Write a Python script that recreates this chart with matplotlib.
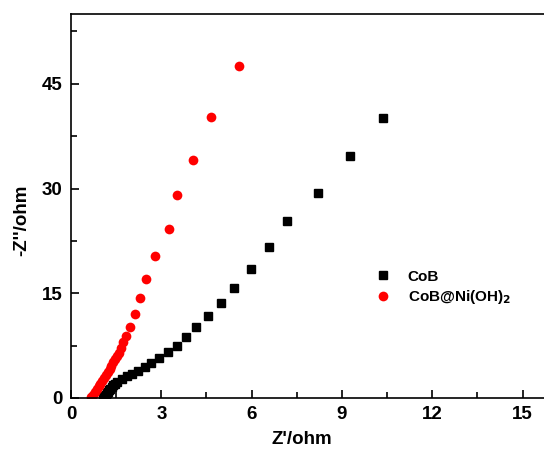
import numpy as np
import matplotlib
matplotlib.use('Agg')
import matplotlib.pyplot as plt
from matplotlib.ticker import MultipleLocator

plt.rcParams['font.family'] = ['Liberation Sans', 'DejaVu Sans']
plt.rcParams['font.weight'] = 'bold'

# CoB (black squares)
cob_x = [1.05, 1.08, 1.11, 1.15, 1.19, 1.23, 1.27, 1.31, 1.36, 1.41, 1.46,
         1.54, 1.69, 1.85, 2.03, 2.23, 2.45, 2.67, 2.92, 3.21, 3.51, 3.82,
         4.16, 4.56, 4.97, 5.43, 5.97, 6.59, 7.18, 8.21, 9.27, 10.36]
cob_y = [0.0, 0.15, 0.32, 0.5, 0.7, 0.9, 1.1, 1.3, 1.55, 1.8, 2.05,
         2.3, 2.7, 3.1, 3.5, 3.9, 4.5, 5.0, 5.8, 6.6, 7.5, 8.8,
         10.1, 11.7, 13.6, 15.8, 18.5, 21.6, 25.3, 29.4, 34.6, 40.1]

# CoB@Ni(OH)2 (red circles)
ni_x = [0.68, 0.74, 0.80, 0.86, 0.92, 0.98, 1.04, 1.10, 1.16, 1.22, 1.28,
        1.34, 1.40, 1.46, 1.52, 1.58, 1.65, 1.74, 1.84, 1.96, 2.13, 2.28,
        2.50, 2.79, 3.26, 3.53, 4.05, 4.65, 5.58]
ni_y = [0.1, 0.45, 0.85, 1.25, 1.65, 2.05, 2.45, 2.85, 3.3, 3.75, 4.2,
        4.65, 5.1, 5.55, 6.0, 6.5, 7.1, 8.0, 8.9, 10.2, 12.0, 14.3,
        17.1, 20.4, 24.2, 29.1, 34.1, 40.3, 47.5]

fig = plt.figure(figsize=(5.44, 4.59), dpi=100)
ax = fig.add_axes([0.1305, 0.1329, 1.0 - 0.1305, 0.9695 - 0.1329])

ax.plot(cob_x, cob_y, 's', color='black', markersize=6, label='CoB')
ax.plot(ni_x, ni_y, 'o', color='red', markersize=7, markeredgewidth=0,
        label='CoB@Ni(OH)$_\\mathbf{2}$')

ax.set_xlim(0, 15.71)
ax.set_ylim(0, 55)
ax.xaxis.set_major_locator(MultipleLocator(3))
ax.xaxis.set_minor_locator(MultipleLocator(1.5))
ax.yaxis.set_major_locator(MultipleLocator(15))
ax.yaxis.set_minor_locator(MultipleLocator(7.5))
ax.tick_params(which='both', direction='in', top=False, right=False,
               labelsize=13.5, width=1.2)
ax.tick_params(which='major', length=6)
ax.tick_params(axis='x', which='major', pad=6)
ax.tick_params(axis='y', which='major', pad=6)
ax.tick_params(which='minor', length=4)
for lab in ax.get_xticklabels() + ax.get_yticklabels():
    lab.set_fontweight('bold')
for s in ax.spines.values():
    s.set_linewidth(1.2)
ax.spines['right'].set_visible(False)

ax.set_xlabel("Z'/ohm", fontsize=13.5, fontweight='bold')
ax.set_ylabel("-Z''/ohm", fontsize=13.5, fontweight='bold')
ax.xaxis.set_label_coords(0.488, -0.085)
ax.yaxis.set_label_coords(-0.087, 0.464)

ax.legend(loc='upper left', bbox_to_anchor=(0.599, 0.37), frameon=False,
          handletextpad=0.6, labelspacing=0.3,
          prop={'weight': 'bold', 'size': 11})

fig.savefig('out.png', dpi=100)
